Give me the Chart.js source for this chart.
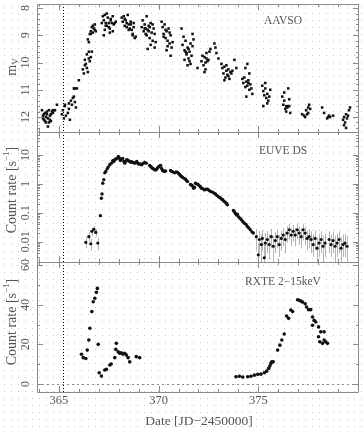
<!DOCTYPE html>
<html>
<head>
<meta charset="utf-8">
<script src="https://cdn.jsdelivr.net/npm/chart.js@4/dist/chart.umd.min.js"></script>
<style>
html, body { margin: 0; padding: 0; background: #fff; }
#wrap { position: relative; width: 364px; height: 429px; }
#wrap canvas { position: absolute; left: 0; top: 0; }
</style>
</head>
<body>
<div id="wrap">
  <canvas id="bg" width="364" height="429"></canvas>
  <canvas id="c1" width="364" height="429"></canvas>
  <canvas id="c2" width="364" height="429"></canvas>
  <canvas id="c3" width="364" height="429"></canvas>
</div>
<script>
// AAVSO visual magnitudes (m_V)
const aavsoX = [
  364.15,364.2,364.25,364.3,364.35,364.4,364.45,364.5,364.55,364.6,364.65,364.7,364.75,364.8,364.2,364.3,364.4,364.5,364.6,364.7,364.25,364.35,364.45,364.55,364.9,
  365.15,365.2,365.25,365.3,365.35,365.45,365.5,365.55,365.6,365.65,365.7,365.75,365.8,365.85,365.3,365.5,365.75,365.8,365.9,
  366.0,
  366.2,366.25,366.3,366.35,366.4,366.45,366.5,366.55,366.6,366.65,366.3,366.4,366.5,366.45,366.5,
  366.55,366.6,366.65,366.7,366.75,366.8,366.85,366.6,366.7,366.8,
  367.15,367.2,367.25,367.3,367.35,367.4,367.45,367.5,367.55,367.6,367.65,367.7,367.75,367.8,367.85,367.3,367.4,367.5,367.6,367.7,367.35,367.55,367.25,
  368.15,368.2,368.25,368.3,368.35,368.4,368.45,368.5,368.55,368.6,368.65,368.7,368.75,368.8,368.85,368.3,368.5,368.6,368.7,368.75,368.4,
  369.15,369.2,369.25,369.3,369.35,369.4,369.45,369.5,369.55,369.6,369.65,369.7,369.75,369.8,369.85,369.3,369.4,369.5,369.6,369.7,369.8,369.45,369.55,369.35,
  370.15,370.2,370.25,370.3,370.35,370.4,370.45,370.5,370.55,370.6,370.65,370.7,370.25,370.35,370.45,370.55,370.4,370.6,
  371.15,371.2,371.25,371.3,371.35,371.4,371.45,371.5,371.55,371.6,371.65,371.7,371.75,371.3,371.4,371.5,371.6,371.7,371.45,371.55,371.35,
  371.95,372.15,372.2,372.25,372.3,372.35,372.4,372.45,372.5,372.55,372.3,372.4,372.35,372.6,372.8,372.85,372.9,373.0,
  373.15,373.2,373.25,373.3,373.35,373.4,373.45,373.5,373.55,373.6,373.65,373.3,373.4,373.5,373.7,373.8,373.9,
  374.2,374.25,374.3,374.35,374.4,374.45,374.5,374.55,374.6,374.65,374.7,374.35,374.45,374.55,374.4,374.5,
  375.2,375.25,375.3,375.35,375.4,375.45,375.5,375.55,375.35,375.45,375.6,375.25,
  376.2,376.25,376.3,376.35,376.4,376.45,376.5,376.55,376.3,376.4,376.5,376.55,376.6,
  377.2,377.3,377.4,377.45,377.5,377.55,377.6,377.35,377.5,
  378.2,378.3,378.45,378.5,378.55,378.6,378.75,
  379.25,379.3,379.35,379.4,379.45,379.5,379.3,379.4,379.55,379.6
];
const aavsoMag = [
  11.75,11.95,12.1,11.85,12.2,11.9,12.05,11.75,11.95,12.15,11.8,11.75,11.75,11.75,12.05,12.15,11.8,12.2,11.9,11.85,11.9,12.0,12.35,12.1,11.55,
  11.9,11.75,12.05,11.6,11.95,11.85,11.5,12.1,11.4,11.55,11.3,11.25,11.45,11.65,11.55,11.7,10.95,10.95,10.95,
  10.65,
  10.25,10.4,9.9,10.05,10.2,10.35,9.85,9.95,9.8,9.6,10.1,9.7,9.6,9.15,9.25,
  8.95,8.85,8.7,8.9,8.75,8.6,8.85,8.95,8.65,8.8,
  8.55,8.3,8.45,8.25,8.55,8.65,8.35,8.55,8.75,8.4,8.55,8.3,8.6,8.55,8.5,8.8,8.2,8.7,8.45,8.85,8.65,8.9,9.0,
  8.35,8.5,8.3,8.65,8.45,8.55,8.25,8.6,8.75,8.5,8.8,8.95,8.7,9.1,9.05,8.4,8.8,8.6,9.0,8.55,8.7,
  8.7,8.45,8.85,8.6,8.95,8.3,8.8,8.65,9.1,8.55,8.9,9.2,8.75,9.45,9.25,8.75,9.0,8.85,9.35,8.6,8.95,9.5,8.7,8.75,
  8.5,8.7,8.95,8.6,9.1,8.85,9.2,8.75,9.3,9.0,9.45,9.25,9.05,8.8,9.4,8.9,9.55,9.75,
  8.75,9.35,9.05,9.55,9.2,9.7,9.45,9.85,9.6,9.3,9.75,8.95,9.15,9.9,9.65,9.5,10.05,9.4,10.1,9.95,9.6,
  10.2,9.95,9.75,10.1,9.8,10.25,9.65,9.95,9.9,9.6,10.35,9.85,10.0,9.5,9.3,9.45,9.65,9.85,
  10.05,10.2,10.4,10.15,10.55,10.3,10.45,10.25,10.6,10.35,10.4,10.65,10.1,10.5,10.3,9.9,10.2,
  10.6,10.75,10.55,10.9,10.7,10.85,10.65,11.0,10.8,10.95,11.15,10.2,10.05,10.4,11.25,10.75,
  10.85,11.05,11.2,10.95,11.3,11.15,11.4,11.25,10.75,11.5,11.0,11.6,
  11.25,11.55,11.4,11.7,11.6,11.65,11.6,11.6,11.1,11.8,10.95,11.35,11.85,
  11.9,11.95,11.75,11.9,11.65,11.55,11.7,12.0,11.85,
  11.65,11.85,12.05,12.0,11.95,12.0,11.95,
  12.1,12.0,12.2,11.9,12.05,11.95,12.3,12.4,11.75,11.65
];

// EUVE DS count rate, points without drawn error bars
const euveX = [
  367.08,367.13,367.16,367.2,367.25,367.3,367.35,367.42,367.47,367.55,367.63,367.7,367.75,367.8,367.85,367.92,367.98,
  368.03,368.08,368.13,368.2,368.25,368.3,368.35,368.4,368.45,368.5,368.55,368.6,368.65,368.72,368.8,368.85,368.9,368.95,
  369.0,369.08,369.15,369.22,369.3,369.38,369.55,369.6,369.65,369.7,369.75,369.8,369.85,369.9,369.95,
  370.0,370.05,370.1,370.15,370.2,370.25,370.3,370.35,370.6,370.65,370.7,370.8,370.88,370.95,
  371.0,371.05,371.1,371.15,371.2,371.28,371.35,371.4,371.45,371.6,371.65,371.7,371.75,371.8,371.85,371.9,371.98,
  372.05,372.1,372.15,372.22,372.3,372.38,372.45,372.52,372.6,372.7,372.78,372.85,372.92,
  373.0,373.08,373.15,373.2,373.28,373.35,373.4,373.45,373.75,373.8,373.85,373.9,373.95,
  374.0,374.08,374.15,374.22,374.3,374.38,374.45,374.52,374.6,374.68,374.75
];
const euveRate = [
  0.08,0.32,0.45,1.05,1.4,2.4,2.7,3.3,3.8,4.6,5.2,6.3,5.9,6.8,7.2,7.6,8.8,
  7.9,6.4,7.1,7.6,6.0,5.2,6.1,6.8,6.6,6.2,6.0,5.6,5.8,5.5,5.2,5.5,5.9,5.3,
  4.8,4.9,4.6,5.1,5.5,5.2,4.3,4.0,3.7,3.4,3.3,3.1,3.0,3.2,3.6,
  3.9,4.2,4.3,3.4,2.9,2.8,2.7,2.8,2.9,2.7,2.6,2.4,2.6,2.5,
  2.3,2.1,1.9,1.8,1.7,1.55,1.45,1.3,1.2,0.95,0.9,0.85,0.71,0.75,1.05,1.0,0.95,
  0.85,0.8,0.71,0.68,0.62,0.66,0.65,0.6,0.55,0.52,0.48,0.45,0.4,
  0.36,0.33,0.3,0.29,0.25,0.23,0.21,0.19,0.12,0.11,0.095,0.085,0.09,
  0.074,0.065,0.058,0.05,0.044,0.04,0.034,0.03,0.026,0.022,0.02
];

// EUVE DS points with error bars (early rise and quiescent tail)
const euveErrX = [
  366.35,366.5,366.6,366.65,366.75,366.85,366.95,
  374.9,375.0,375.05,375.15,375.2,375.3,375.35,375.45,375.55,375.65,375.75,375.85,375.95,
  376.05,376.15,376.25,376.35,376.45,376.55,376.65,376.75,376.85,376.95,
  377.05,377.15,377.25,377.35,377.45,377.55,377.65,377.75,377.85,377.95,
  378.05,378.15,378.25,378.35,378.55,378.65,378.75,378.85,378.95,
  379.05,379.15,379.25,379.35,379.45
];
const euveErrRate = [
  0.0095,0.015,0.0085,0.023,0.027,0.021,0.009,
  0.015,0.0035,0.012,0.008,0.013,0.0028,0.009,0.012,0.008,0.015,0.007,0.011,0.015,
  0.008,0.013,0.017,0.012,0.02,0.026,0.017,0.023,0.017,0.026,
  0.02,0.015,0.026,0.02,0.013,0.015,0.012,0.008,0.013,0.006,
  0.009,0.012,0.007,0.009,0.012,0.008,0.011,0.007,0.009,
  0.012,0.006,0.008,0.009,0.007
];
const euveErrLo = [
  0.006,0.01,0.005,0.016,0.02,0.015,0.005,
  0.005,0.0015,0.004,0.002,0.005,0.0015,0.003,0.004,0.0025,0.006,0.002,0.004,0.006,
  0.003,0.005,0.007,0.004,0.009,0.012,0.007,0.01,0.007,0.012,
  0.008,0.006,0.011,0.008,0.005,0.006,0.004,0.003,0.005,0.002,
  0.003,0.004,0.002,0.003,0.004,0.003,0.004,0.002,0.003,
  0.004,0.002,0.003,0.003,0.002
];
const euveErrHi = [
  0.014,0.021,0.013,0.031,0.035,0.028,0.014,
  0.028,0.009,0.024,0.018,0.025,0.008,0.02,0.024,0.018,0.028,0.016,0.022,0.027,
  0.017,0.024,0.03,0.023,0.034,0.042,0.03,0.038,0.03,0.042,
  0.034,0.028,0.042,0.034,0.025,0.027,0.023,0.018,0.025,0.014,
  0.019,0.023,0.016,0.019,0.023,0.018,0.022,0.016,0.019,
  0.023,0.014,0.018,0.019,0.016
];

// RXTE 2-15 keV count rate
const rxteX = [
  366.13,366.22,366.35,366.42,366.5,366.55,366.65,366.72,366.8,366.88,366.93,366.97,
  367.02,367.13,367.3,367.38,367.55,367.62,367.8,367.85,367.88,367.97,368.05,368.12,368.2,368.3,368.38,368.47,368.55,368.88,369.05,
  373.88,374.05,374.22,374.47,374.63,374.8,374.97,375.13,375.3,375.42,375.52,375.58,375.63,375.68,375.75,
  375.97,376.08,376.18,376.3,376.42,376.52,376.63,376.72,
  376.97,377.05,377.13,377.22,377.35,377.42,377.52,377.63,377.72,377.8,377.88,377.72,378.02,378.13,378.02,378.08,378.22,378.3,378.38,378.3,378.47
];
const rxteRate = [
  15.0,13.3,12.9,17.1,22.2,28.1,36.5,41.5,43.2,46.2,48.2,20.0,
  5.7,4.0,7.1,7.4,9.6,10.1,13.3,17.5,20.5,16.3,15.5,15.8,15.1,15.5,14.6,13.3,11.2,13.8,13.3,
  3.7,3.9,3.5,3.7,3.9,4.5,4.9,5.0,5.7,6.5,7.9,9.1,10.4,11.2,11.2,
  17.1,19.6,22.2,25.2,34.3,33.1,37.3,36.5,
  42.5,42.2,41.8,41.3,40.5,38.8,37.5,37.5,33.8,32.1,31.3,29.6,28.8,26.3,23.8,21.3,20.5,22.2,21.3,26.3,20.5
];

const xMajor = [365, 370, 375];
const xMinor = [364,365,366,367,368,369,370,371,372,373,374,375,376,377,378,379,380];
const magTicks = [8, 9, 10, 11, 12];
const euveTicks = [10, 1, 0.1, 0.01];
const euveTickLabels = ['10', '1', '0.1', '0.01'];
const rxteTicks = [0, 20, 40, 60];
const outburstDate = 365.2;

const W = 364, H = 429, L = 37, R = 359;
const X_MIN = 363.9, X_MAX = 380.05;
const FRAME = '#8a8a8a';
const TEXT = '#555';
const SERIF = '"Liberation Serif", "DejaVu Serif", serif';

// background dot pattern of the scan
(function () {
  const ctx = document.getElementById('bg').getContext('2d');
  ctx.fillStyle = '#c6c6c6';
  for (let x = 4; x < W; x += 7) {
    for (let y = 6; y < H; y += 7) ctx.fillRect(x, y, 1, 1);
  }
})();

function drawRich(ctx, parts, cx, cy) {
  // parts: [{t, size, dy}] drawn left to right in the current (possibly rotated) frame
  let total = 0;
  parts.forEach(p => { ctx.font = p.size + 'px ' + SERIF; p.w = ctx.measureText(p.t).width; total += p.w; });
  let x = cx - total / 2;
  ctx.textAlign = 'left';
  ctx.textBaseline = 'middle';
  parts.forEach(p => {
    ctx.font = p.size + 'px ' + SERIF;
    ctx.fillText(p.t, x, cy + (p.dy || 0));
    x += p.w;
  });
}

const panelPlugin = {
  id: 'panel',
  beforeDatasetsDraw(chart, args, o) {
    const { ctx, chartArea: a, scales: { x, y } } = chart;
    ctx.save();
    ctx.beginPath();
    ctx.rect(a.left, a.top, a.right - a.left, a.bottom - a.top);
    ctx.clip();
    ctx.strokeStyle = '#b4b4b4';
    ctx.lineWidth = 1;
    chart.data.datasets.forEach(ds => {
      if (!ds.errLo) return;
      ds.data.forEach((p, i) => {
        const px = Math.round(x.getPixelForValue(p.x)) + 0.5;
        ctx.beginPath();
        ctx.moveTo(px, y.getPixelForValue(ds.errLo[i]));
        ctx.lineTo(px, y.getPixelForValue(ds.errHi[i]));
        ctx.stroke();
      });
    });
    if (o.zeroLine) {
      const py = Math.round(y.getPixelForValue(0)) + 0.5;
      ctx.setLineDash([2, 3]);
      ctx.strokeStyle = '#8a8a8a';
      ctx.beginPath();
      ctx.moveTo(a.left, py);
      ctx.lineTo(a.right, py);
      ctx.stroke();
    }
    ctx.restore();
  },
  afterDatasetsDraw(chart, args, o) {
    const { ctx, chartArea: a, scales: { x, y } } = chart;
    ctx.save();
    // outburst marker
    const vx = Math.round(x.getPixelForValue(outburstDate)) + 0.5;
    ctx.strokeStyle = '#000';
    ctx.lineWidth = 1;
    ctx.setLineDash([1, 2]);
    ctx.beginPath();
    ctx.moveTo(vx, a.top);
    ctx.lineTo(vx, a.bottom);
    ctx.stroke();
    ctx.setLineDash([]);

    // frame
    ctx.strokeStyle = FRAME;
    ctx.beginPath();
    ctx.moveTo(a.left + 0.5, a.top + 0.5);
    ctx.lineTo(a.right - 0.5, a.top + 0.5);
    ctx.lineTo(a.right - 0.5, a.bottom + 0.5);
    ctx.lineTo(a.left + 0.5, a.bottom + 0.5);
    ctx.closePath();
    ctx.stroke();

    // x ticks top and bottom
    ctx.beginPath();
    xMinor.forEach(v => {
      const px = Math.round(x.getPixelForValue(v)) + 0.5;
      if (px < a.left || px > a.right) return;
      const len = xMajor.includes(v) ? 6 : 3;
      ctx.moveTo(px, a.bottom); ctx.lineTo(px, a.bottom - len);
      ctx.moveTo(px, a.top); ctx.lineTo(px, a.top + len);
    });
    // y ticks left and right
    o.yMinor.forEach(v => {
      const py = Math.round(y.getPixelForValue(v)) + 0.5;
      if (py < a.top || py > a.bottom) return;
      ctx.moveTo(a.left, py); ctx.lineTo(a.left + 3, py);
      ctx.moveTo(a.right, py); ctx.lineTo(a.right - 3, py);
    });
    o.yMajor.forEach(v => {
      const py = Math.round(y.getPixelForValue(v)) + 0.5;
      ctx.moveTo(a.left, py); ctx.lineTo(a.left + 6, py);
      ctx.moveTo(a.right, py); ctx.lineTo(a.right - 6, py);
    });
    ctx.stroke();

    // y tick labels, rotated
    ctx.fillStyle = TEXT;
    ctx.font = '12px ' + SERIF;
    ctx.textAlign = 'center';
    ctx.textBaseline = 'middle';
    o.yMajor.forEach((v, i) => {
      const py = y.getPixelForValue(v);
      ctx.save();
      ctx.translate(26, py);
      ctx.rotate(-Math.PI / 2);
      ctx.fillText(o.yLabels[i], 0, 0);
      ctx.restore();
    });

    // y title
    ctx.save();
    ctx.translate(12, o.titleY);
    ctx.rotate(-Math.PI / 2);
    drawRich(ctx, o.title, 0, 0);
    ctx.restore();

    // panel label
    ctx.font = '11.5px ' + SERIF;
    ctx.textAlign = 'center';
    ctx.textBaseline = 'middle';
    ctx.fillText(o.label, 283, o.labelY);

    // x tick labels and title on the bottom panel
    if (o.xLabels) {
      ctx.font = '12.5px ' + SERIF;
      xMajor.forEach(v => ctx.fillText(String(v), x.getPixelForValue(v), 401));
      ctx.font = '13.5px ' + SERIF;
      ctx.fillText('Date [JD\u22122450000]', 199, 421);
    }
    ctx.restore();
  }
};

function makePanel(id, top, bottom, yScale, datasets, opts) {
  return new Chart(document.getElementById(id), {
    type: 'scatter',
    data: { datasets: datasets },
    options: {
      responsive: false,
      animation: false,
      events: [],
      layout: { padding: { left: L, right: W - R, top: top, bottom: H - bottom } },
      plugins: { legend: { display: false }, tooltip: { enabled: false }, panel: opts },
      scales: {
        x: { type: 'linear', min: X_MIN, max: X_MAX, display: false },
        y: Object.assign({ display: false }, yScale)
      }
    },
    plugins: [panelPlugin]
  });
}

function pts(xs, ys) { return xs.map((v, i) => ({ x: v, y: ys[i] })); }

const magMinor = [];
for (let m = 8; m <= 12.5; m = Math.round((m + 0.2) * 10) / 10) magMinor.push(m);
const logMinor = [];
[0.001, 0.01, 0.1, 1, 10].forEach(d => { for (let k = 1; k < 10; k++) logMinor.push(d * k); });

makePanel('c1', 2, 132,
  { type: 'linear', min: 7.85, max: 12.55, reverse: true },
  [{ data: pts(aavsoX, aavsoMag), pointStyle: 'rect', pointRadius: 1.8, backgroundColor: '#111', borderWidth: 0, clip: 0 }],
  { yMajor: magTicks, yMinor: magMinor, yLabels: magTicks.map(String),
    title: [{ t: 'm', size: 14 }, { t: 'V', size: 9, dy: 4 }], titleY: 67,
    label: 'AAVSO', labelY: 21 });

makePanel('c2', 132, 262,
  { type: 'logarithmic', min: 0.002, max: 62 },
  [
    { data: pts(euveErrX, euveErrRate), errLo: euveErrLo, errHi: euveErrHi, pointRadius: 1.6, backgroundColor: '#111', borderWidth: 0, clip: 0 },
    { data: pts(euveX, euveRate), pointRadius: 1.7, backgroundColor: '#111', borderWidth: 0, clip: 0 }
  ],
  { yMajor: euveTicks, yMinor: logMinor, yLabels: euveTickLabels,
    title: [{ t: 'Count rate [s', size: 14 }, { t: '\u22121', size: 9, dy: -5 }, { t: ']', size: 14 }], titleY: 190,
    label: 'EUVE DS', labelY: 151 });

makePanel('c3', 262, 392,
  { type: 'linear', min: -4, max: 61.5 },
  [{ data: pts(rxteX, rxteRate), pointRadius: 1.8, backgroundColor: '#111', borderWidth: 0, clip: 0 }],
  { yMajor: rxteTicks, yMinor: [10, 30, 50], yLabels: rxteTicks.map(String),
    title: [{ t: 'Count rate [s', size: 14 }, { t: '\u22121', size: 9, dy: -5 }, { t: ']', size: 14 }], titleY: 322,
    label: 'RXTE 2\u221215keV', labelY: 282, zeroLine: true, xLabels: true });
</script>
</body>
</html>
